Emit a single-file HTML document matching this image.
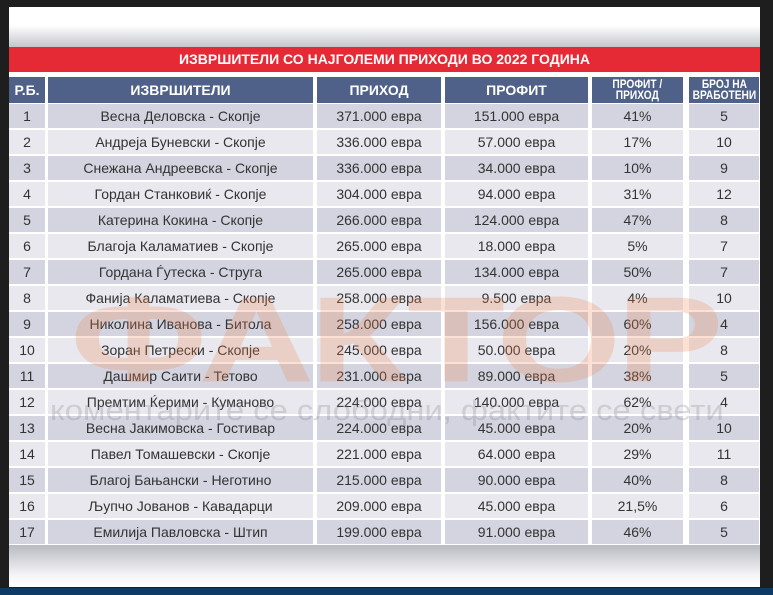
<!DOCTYPE html>
<html><head><meta charset="utf-8"><style>
body{margin:0;width:773px;height:595px;background:#1e1e1e;position:relative;overflow:hidden;font-family:"Liberation Sans",sans-serif}
.panel{position:absolute;left:9px;top:7px;width:751px;height:580px;background:#fff}
.shade{position:absolute;left:9px;top:7px;width:751px;height:41px;background:linear-gradient(#fff 0%,#fff 45%,#c2c3ca 100%)}
.shadeb{position:absolute;left:9px;top:545px;width:751px;height:42px;background:linear-gradient(#b9bac2 0%,#f4f4f6 70%,#fff 100%)}
.bot{position:absolute;left:0;top:588px;width:773px;height:7px;background:#0d3b66}
.red{position:absolute;left:9px;top:47px;width:751px;height:25px;background:#e52a35;color:#fff;font-weight:bold;font-size:14px;text-align:center;line-height:25px}
.c{position:absolute;text-align:center;font-size:14px;color:#333;display:flex;align-items:center;justify-content:center;box-sizing:border-box;white-space:nowrap}
.h{background:#4f6189;color:#fff;font-weight:bold;line-height:11px}
.wm{position:absolute;left:70px;top:262px;font-size:135px;font-weight:bold;color:rgba(240,130,80,0.25);letter-spacing:-4px;transform-origin:0 50%;transform:scale(1.19,0.9)}
.wm2{position:absolute;left:50px;top:395px;font-size:29px;color:rgba(120,120,130,0.25);transform-origin:0 50%;transform:scaleX(1.13)}
.sm{display:inline-block;transform:scaleX(0.85)}
</style></head><body>
<div class="panel"></div><div class="shade"></div><div class="shadeb"></div><div class="bot"></div>
<div class="red">ИЗВРШИТЕЛИ СО НАЈГОЛЕМИ ПРИХОДИ ВО 2022 ГОДИНА</div>
<div id="t"></div>
<div class="wm">ФАКТОР</div>
<div class="wm2">коментарите се слободни, фактите се свети</div>
<script>
var cols=[[9,36],[48,265],[317,124],[445,143],[592,91],[689,70]];
var H=["Р.Б.","ИЗВРШИТЕЛИ","ПРИХОД","ПРОФИТ","<span class='sm'>ПРОФИТ /<br>ПРИХОД</span>","<span class='sm'>БРОЈ НА<br>ВРАБОТЕНИ</span>"];
var D=[["Весна Деловска - Скопје","371.000","151.000","41%","5"],["Андреја Буневски - Скопје","336.000","57.000","17%","10"],["Снежана Андреевска - Скопје","336.000","34.000","10%","9"],["Гордан Станковиќ - Скопје","304.000","94.000","31%","12"],["Катерина Кокина - Скопје","266.000","124.000","47%","8"],["Благоја Каламатиев - Скопје","265.000","18.000","5%","7"],["Гордана Ѓутеска - Струга","265.000","134.000","50%","7"],["Фанија Каламатиева - Скопје","258.000","9.500","4%","10"],["Николина Иванова - Битола","258.000","156.000","60%","4"],["Зоран Петрески - Скопје","245.000","50.000","20%","8"],["Дашмир Саити - Тетово","231.000","89.000","38%","5"],["Премтим Ќерими - Куманово","224.000","140.000","62%","4"],["Весна Јакимовска - Гостивар","224.000","45.000","20%","10"],["Павел Томашевски - Скопје","221.000","64.000","29%","11"],["Благој Бањански - Неготино","215.000","90.000","40%","8"],["Љупчо Јованов - Кавадарци","209.000","45.000","21,5%","6"],["Емилија Павловска - Штип","199.000","91.000","46%","5"]];
var s="";
cols.forEach(function(c,i){s+='<div class="c h" style="left:'+c[0]+'px;top:77px;width:'+c[1]+'px;height:26px;font-size:'+(i>3?12:14)+'px">'+H[i]+'</div>';});
D.forEach(function(r,j){var y=104+j*26;var bg=j%2?"#e8e8ee":"#d3d4df";
var v=[j+1,r[0],r[1]+" евра",r[2]+" евра",r[3],r[4]];
cols.forEach(function(c,i){s+='<div class="c" style="left:'+c[0]+'px;top:'+y+'px;width:'+c[1]+'px;height:24px;background:'+bg+'">'+v[i]+'</div>';});});
document.getElementById("t").innerHTML=s;
</script>
</body></html>
